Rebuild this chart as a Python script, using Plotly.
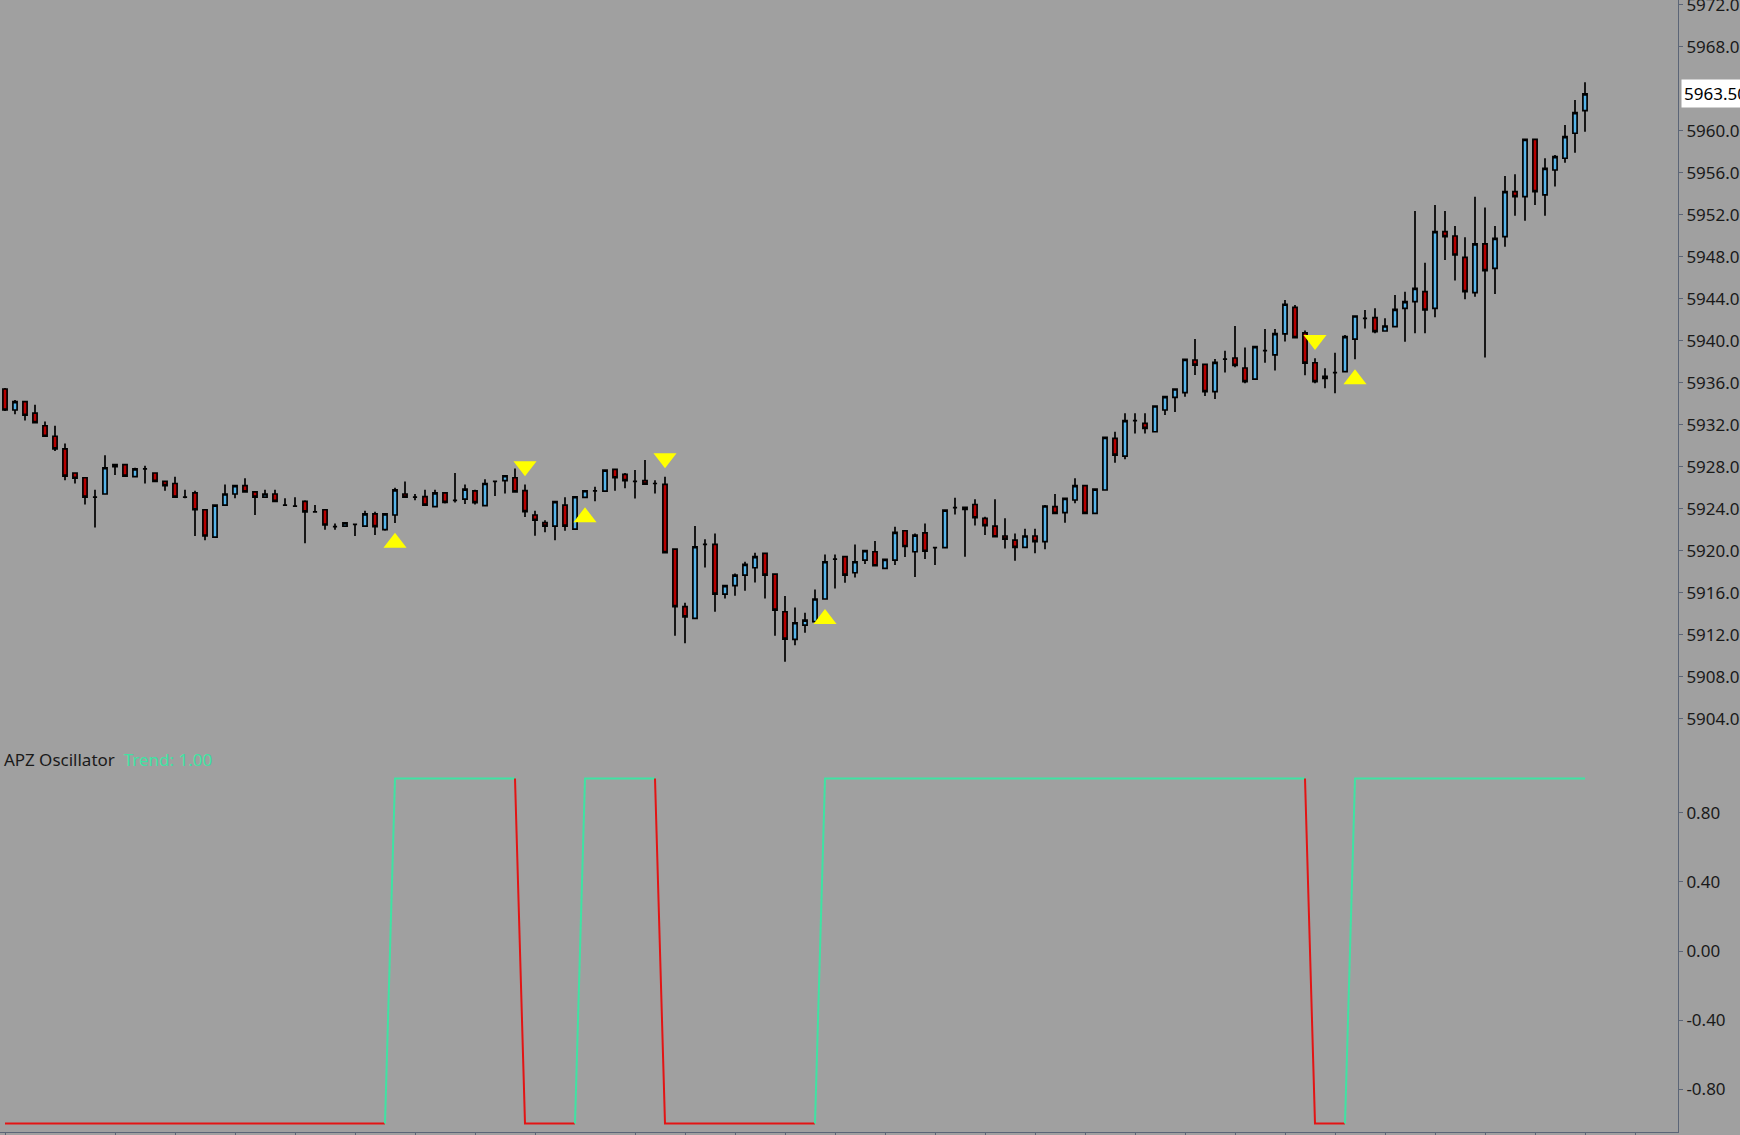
import plotly.graph_objects as go

# --- data (one bar per index) ---
opens = [
    5935.4, 5933.4, 5934.2, 5933.1, 5931.9, 5930.9, 5929.7, 5927.4, 5926.95, 5925.1,
    5925.4, 5928.0, 5928.2, 5927.05, 5927.8, 5927.4, 5926.6, 5926.4, 5925.1, 5925.5,
    5923.9, 5921.3, 5924.35, 5925.4, 5926.2, 5925.6, 5925.1, 5925.4, 5924.35, 5924.25,
    5924.7, 5923.7, 5923.9, 5922.3, 5922.35, 5922.5, 5922.35, 5923.5, 5922.0, 5923.4,
    5925.4, 5925.1, 5925.15, 5924.2, 5925.5, 5924.8, 5924.92, 5925.7, 5924.29, 5926.6,
    5926.67, 5926.95, 5925.72, 5923.4, 5922.67, 5922.35, 5924.35, 5922.06, 5925.08, 5925.7,
    5925.68, 5927.75, 5927.27, 5926.6, 5926.67, 5926.4, 5926.32, 5920.16, 5914.67, 5913.56,
    5920.6, 5920.6, 5915.87, 5916.67, 5917.68, 5918.38, 5919.75, 5917.78, 5914.19, 5911.56,
    5912.92, 5913.24, 5915.4, 5919.2, 5919.43, 5917.9, 5919.11, 5919.9, 5918.32, 5919.11,
    5921.9, 5919.9, 5921.7, 5920.3, 5920.3, 5924.1, 5923.94, 5924.4, 5923.08, 5922.35,
    5921.4, 5921.0, 5920.32, 5921.4, 5920.86, 5924.19, 5923.62, 5924.83, 5926.19, 5923.56,
    5925.78, 5930.7, 5929.0, 5932.38, 5932.13, 5931.33, 5933.4, 5934.6, 5935.05, 5938.16,
    5937.75, 5935.14, 5938.25, 5938.35, 5937.4, 5936.34, 5939.05, 5938.65, 5940.64, 5943.18,
    5940.75, 5937.9, 5936.4, 5936.96, 5937.06, 5940.15, 5942.13, 5942.19, 5940.92, 5941.33,
    5943.08, 5943.71, 5944.67, 5943.08, 5950.38, 5949.97, 5947.94, 5944.57, 5949.21, 5946.89,
    5949.9, 5954.19, 5953.71, 5959.17, 5953.88, 5956.25, 5957.37, 5959.75, 5961.9,
]
highs = [
    5935.5, 5934.35, 5934.2, 5933.9, 5932.3, 5931.9, 5930.2, 5927.4, 5926.95, 5925.8,
    5929.1, 5928.2, 5928.2, 5927.9, 5928.1, 5927.4, 5926.6, 5927.05, 5925.8, 5925.7,
    5923.95, 5924.4, 5926.3, 5926.2, 5926.9, 5925.6, 5925.8, 5925.8, 5925.0, 5925.1,
    5924.8, 5924.35, 5923.9, 5922.6, 5922.7, 5922.6, 5923.8, 5923.7, 5923.5, 5926.0,
    5926.6, 5925.4, 5925.8, 5925.8, 5925.5, 5927.4, 5926.3, 5925.8, 5926.8, 5926.6,
    5927.14, 5927.84, 5926.3, 5923.8, 5922.9, 5924.67, 5925.1, 5925.14, 5925.71, 5926.1,
    5927.68, 5927.84, 5927.4, 5927.68, 5928.64, 5926.7, 5927.05, 5920.16, 5915.05, 5922.35,
    5921.08, 5921.65, 5916.67, 5917.84, 5918.95, 5919.81, 5919.81, 5917.78, 5915.68, 5914.6,
    5914.1, 5916.3, 5919.65, 5919.65, 5919.43, 5920.6, 5920.0, 5920.92, 5919.2, 5922.29,
    5921.9, 5921.65, 5922.6, 5920.3, 5923.87, 5925.05, 5924.13, 5924.9, 5923.24, 5924.89,
    5923.08, 5921.65, 5922.1, 5922.1, 5924.35, 5925.4, 5924.98, 5926.89, 5926.19, 5925.87,
    5930.79, 5931.33, 5933.08, 5933.08, 5933.08, 5933.78, 5934.67, 5935.4, 5938.22, 5940.16,
    5937.75, 5938.25, 5939.05, 5941.4, 5939.35, 5939.44, 5941.12, 5941.12, 5943.88, 5943.4,
    5940.96, 5938.32, 5937.37, 5938.86, 5940.55, 5942.36, 5942.92, 5943.08, 5942.13, 5944.35,
    5944.67, 5952.35, 5947.43, 5952.92, 5952.35, 5950.92, 5949.84, 5953.71, 5952.67, 5950.92,
    5955.68, 5955.84, 5959.17, 5959.17, 5957.37, 5957.68, 5960.54, 5962.92, 5964.6,
]
lows = [
    5933.3, 5933.0, 5932.4, 5932.2, 5930.9, 5929.5, 5926.7, 5926.4, 5924.4, 5922.2,
    5925.4, 5927.2, 5927.1, 5927.0, 5926.4, 5926.6, 5925.7, 5925.1, 5925.0, 5921.4,
    5921.0, 5921.2, 5924.35, 5925.0, 5925.6, 5923.4, 5925.1, 5924.7, 5924.3, 5924.2,
    5920.7, 5923.7, 5922.0, 5922.0, 5922.35, 5921.4, 5922.35, 5921.5, 5921.9, 5922.65,
    5925.1, 5924.8, 5924.35, 5924.2, 5924.5, 5924.6, 5924.45, 5924.4, 5924.29, 5925.2,
    5925.46, 5925.6, 5923.2, 5921.43, 5921.75, 5921.0, 5921.9, 5921.97, 5925.08, 5924.7,
    5925.68, 5925.71, 5925.94, 5924.98, 5926.35, 5925.46, 5919.81, 5911.9, 5911.2, 5913.56,
    5918.4, 5914.19, 5915.46, 5915.71, 5916.19, 5916.98, 5915.46, 5911.9, 5909.43, 5911.0,
    5912.2, 5913.24, 5915.4, 5916.4, 5916.95, 5917.46, 5918.73, 5918.5, 5918.3, 5918.64,
    5919.4, 5917.5, 5919.2, 5918.64, 5920.3, 5923.46, 5919.43, 5922.4, 5921.49, 5921.27,
    5920.22, 5919.05, 5920.32, 5919.75, 5920.13, 5923.56, 5922.67, 5924.51, 5923.56, 5923.56,
    5925.78, 5928.38, 5928.7, 5931.17, 5931.17, 5931.33, 5932.92, 5933.2, 5934.67, 5936.73,
    5934.73, 5934.44, 5936.98, 5937.46, 5935.94, 5936.34, 5937.9, 5937.15, 5939.91, 5940.29,
    5936.7, 5935.94, 5935.47, 5935.0, 5937.06, 5938.22, 5941.17, 5940.7, 5940.92, 5941.33,
    5939.9, 5940.7, 5940.7, 5942.22, 5947.68, 5945.72, 5943.94, 5944.19, 5938.4, 5944.44,
    5948.95, 5951.9, 5951.43, 5952.92, 5951.9, 5954.67, 5956.95, 5957.9, 5959.9,
]
closes = [
    5933.4, 5934.2, 5932.9, 5932.2, 5930.9, 5929.7, 5927.1, 5926.9, 5925.1, 5925.1,
    5927.9, 5928.2, 5927.1, 5927.8, 5927.8, 5926.6, 5926.2, 5925.1, 5925.1, 5923.9,
    5921.4, 5924.35, 5925.4, 5926.2, 5925.6, 5925.1, 5925.4, 5924.7, 5924.35, 5924.25,
    5923.7, 5923.7, 5922.45, 5922.3, 5922.65, 5922.5, 5923.5, 5922.3, 5923.5, 5925.8,
    5925.1, 5925.1, 5924.35, 5925.5, 5924.6, 5924.8, 5925.87, 5924.57, 5926.4, 5926.6,
    5927.14, 5925.6, 5923.72, 5922.9, 5922.35, 5924.67, 5922.35, 5925.14, 5925.71, 5925.7,
    5927.68, 5926.95, 5926.67, 5926.6, 5926.35, 5926.4, 5919.81, 5914.67, 5913.7, 5920.38,
    5920.6, 5915.87, 5916.67, 5917.68, 5918.7, 5919.43, 5917.68, 5914.35, 5911.59, 5913.14,
    5913.4, 5915.4, 5918.95, 5919.2, 5917.68, 5918.95, 5920.0, 5918.57, 5919.18, 5921.75,
    5920.4, 5921.49, 5919.95, 5920.3, 5923.87, 5924.1, 5924.13, 5923.14, 5922.38, 5921.33,
    5921.1, 5920.32, 5921.4, 5920.86, 5924.26, 5923.56, 5924.98, 5926.19, 5923.56, 5925.87,
    5930.79, 5929.1, 5932.38, 5932.38, 5931.65, 5933.78, 5934.67, 5935.4, 5938.22, 5937.68,
    5935.14, 5937.94, 5938.25, 5937.65, 5936.1, 5939.44, 5939.05, 5940.68, 5943.47, 5940.29,
    5937.87, 5936.1, 5936.6, 5936.96, 5940.39, 5942.35, 5942.13, 5940.86, 5941.4, 5942.98,
    5943.71, 5944.98, 5942.92, 5950.38, 5949.9, 5948.16, 5944.67, 5949.21, 5946.67, 5949.75,
    5954.19, 5953.71, 5959.17, 5954.19, 5956.41, 5957.52, 5959.43, 5961.72, 5963.5,
]

# APZ trend as (value, number of bars) runs
trend_runs = [(-1, 39), (1, 13), (-1, 6), (1, 8), (-1, 16), (1, 49), (-1, 4), (1, 24)]

# 5964 sits under the last-price box, so it is left out
price_ticks = [5904, 5908, 5912, 5916, 5920, 5924, 5928, 5932, 5936, 5940,
               5944, 5948, 5952, 5956, 5960, 5968, 5972]
osc_ticks = [-0.8, -0.4, 0.0, 0.4, 0.8]
time_ticks = [0, 11, 17, 23, 29, 35, 41, 47, 53, 63, 68, 73, 78, 83, 88, 93,
              98, 103, 108, 113, 118, 123, 128, 133, 138, 143, 148, 153, 158, 163]
last_price = 5963.5

# --- styling ---
BG = "#a0a0a0"
AXIS = "#5b6577"
UP_FILL = "#56b4e9"
DN_FILL = "#b80000"
GREEN = "#3fe3a3"
RED = "#e31414"
FONT = "Noto Sans"

W, H = 1740, 1135
plot_h = 1132
split_px = 745  # boundary between price and oscillator panels

bars = list(range(len(closes)))
trend = []
for val, n in trend_runs:
    trend += [val] * n

fig = go.Figure()

fig.add_trace(go.Candlestick(
    x=bars, open=opens, high=highs, low=lows, close=closes,
    increasing=dict(fillcolor=UP_FILL, line=dict(color="black", width=1.7)),
    decreasing=dict(fillcolor=DN_FILL, line=dict(color="black", width=1.7)),
    whiskerwidth=0, xaxis="x", yaxis="y", showlegend=False,
))

# signal arrows where trend flips
up_x, up_y, dn_x, dn_y = [], [], [], []
for i in range(1, len(trend)):
    if trend[i] > trend[i - 1]:
        up_x.append(i)
        up_y.append(lows[i] - 1.9)
    elif trend[i] < trend[i - 1]:
        dn_x.append(i)
        dn_y.append(highs[i] + 1.75)
fig.add_trace(go.Scatter(x=up_x, y=up_y, mode="markers", xaxis="x", yaxis="y",
                         marker=dict(symbol="triangle-up", size=20, color="#ffff00"),
                         showlegend=False))
fig.add_trace(go.Scatter(x=dn_x, y=dn_y, mode="markers", xaxis="x", yaxis="y",
                         marker=dict(symbol="triangle-down", size=20, color="#ffff00"),
                         showlegend=False))

# oscillator line, each run colored by its value (segment into run takes its color)
start = 0
for val, n in trend_runs:
    s = max(start - 1, 0)
    xs = bars[s:start + n]
    ys = trend[s:start + n]
    fig.add_trace(go.Scatter(x=xs, y=ys, mode="lines", xaxis="x2", yaxis="y2",
                             line=dict(color=GREEN if val > 0 else RED, width=2),
                             showlegend=False, hoverinfo="skip"))
    start += n

x_range = [-0.5, 167.3]
split = 1 - split_px / plot_h

yaxis_common = dict(side="right", showgrid=False, zeroline=False, automargin=False,
                    showline=True, linecolor=AXIS, linewidth=1,
                    ticks="outside", ticklen=4, tickcolor=AXIS,
                    ticklabeloverflow="allow",
                    tickfont=dict(size=17, color="#1a1a1a"))

fig.update_layout(
    width=W, height=H, autosize=False,
    paper_bgcolor=BG, plot_bgcolor=BG,
    margin=dict(l=0, r=W - 1678, t=0, b=H - plot_h, autoexpand=False),
    font=dict(family=FONT, size=16, color="#1a1a1a"),
    boxgap=0.4,
    xaxis=dict(domain=[0, 1], anchor="y", range=x_range, showgrid=False,
               showticklabels=False, showline=False, zeroline=False, automargin=False,
               rangeslider=dict(visible=False), fixedrange=True),
    xaxis2=dict(domain=[0, 1], anchor="y2", range=x_range, showgrid=False,
                showticklabels=False, showline=True, linecolor=AXIS, linewidth=1,
                ticks="outside", ticklen=4, tickcolor=AXIS, tickvals=time_ticks,
                zeroline=False, automargin=False),
    yaxis=dict(domain=[split, 1], anchor="x", range=[5901.5, 5972.44],
               tickvals=price_ticks, ticktext=[f"{v:.2f}" for v in price_ticks],
               **yaxis_common),
    yaxis2=dict(domain=[0, split], anchor="x2", range=[-1.049, 1.194],
                tickvals=osc_ticks, ticktext=[f"{v:.2f}" for v in osc_ticks],
                **yaxis_common),
    annotations=[
        dict(xref="paper", yref="y", x=1, y=last_price, xanchor="left",
             yanchor="middle", xshift=3, text=f"{last_price:.2f}", showarrow=False,
             bgcolor="white", font=dict(size=17, color="black"), borderpad=2),
        dict(xref="paper", yref="paper", x=0, y=1 - 759 / plot_h, xanchor="left",
             yanchor="middle", xshift=2, showarrow=False,
             text=f"APZ Oscillator  <span style='color:{GREEN}'>Trend: {trend[-1]:.2f}</span>",
             font=dict(size=17, color="#1a1a1a")),
    ],
)

fig.write_html("out.html", config={"displayModeBar": False},
               post_script="document.body.style.margin='0';")
